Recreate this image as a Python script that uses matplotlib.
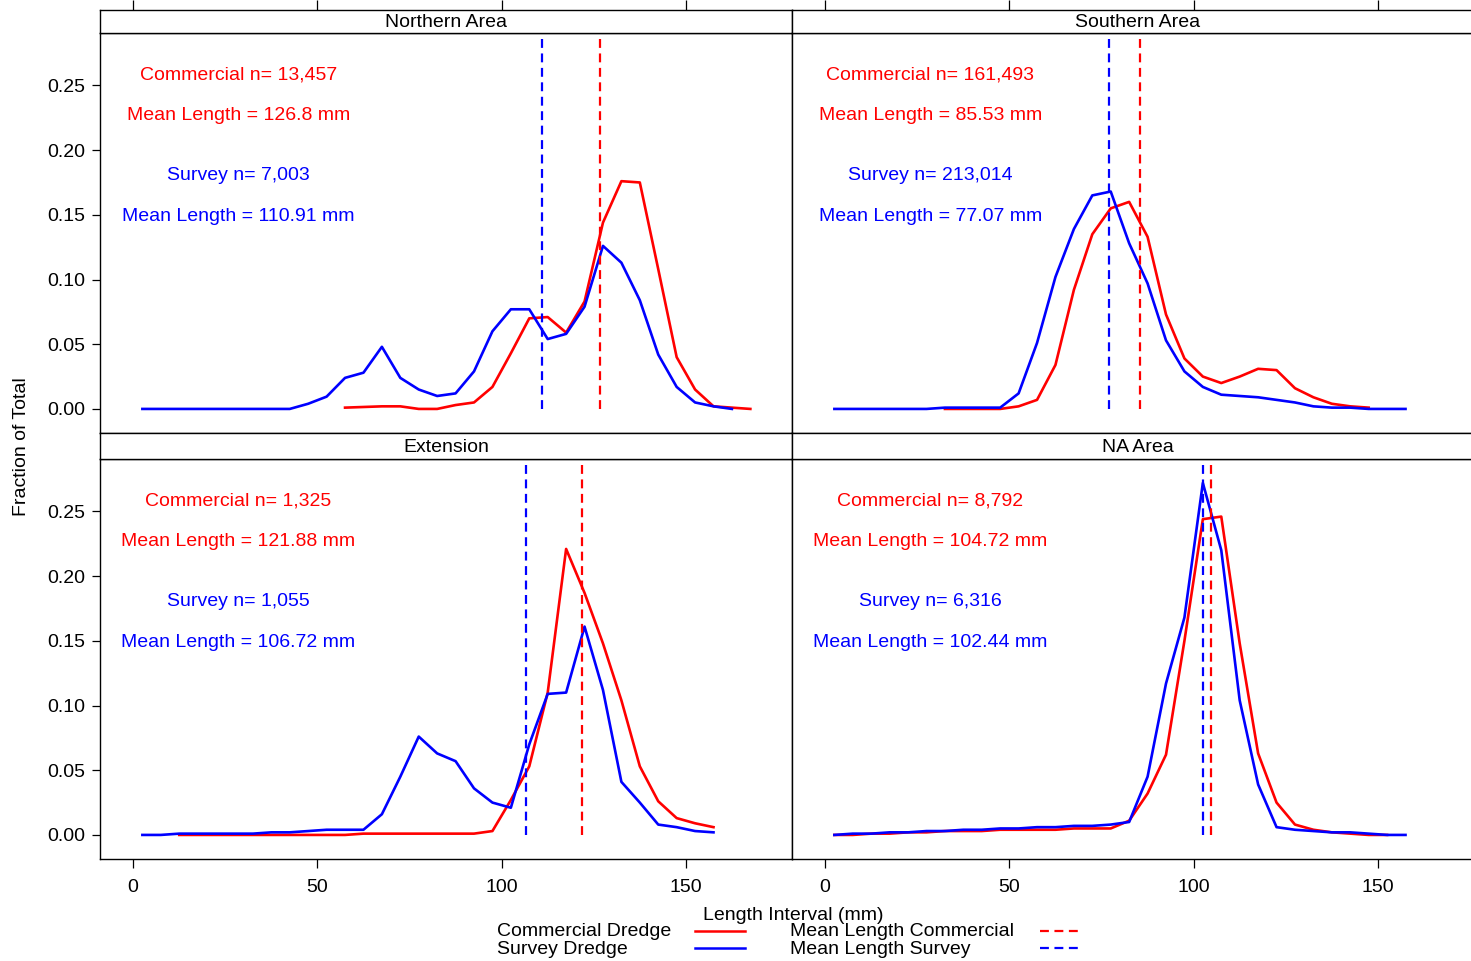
import numpy as np
import matplotlib
matplotlib.use("Agg")
import matplotlib.pyplot as plt
from matplotlib.lines import Line2D
from matplotlib.ticker import FormatStrFormatter

plt.rcParams['font.family'] = ['Liberation Sans', 'DejaVu Sans']
plt.rcParams['font.size'] = 14

# panel names and annotation values
panels = ["Northern Area", "Southern Area", "Extension", "NA Area"]
comm_n = ["13,457", "161,493", "1,325", "8,792"]
comm_mean = [126.8, 85.53, 121.88, 104.72]
surv_n = ["7,003", "213,014", "1,055", "6,316"]
surv_mean = [110.91, 77.07, 106.72, 102.44]

# length-frequency: first bin midpoint (mm), bins are 5 mm wide
north_comm_start = 57.5
north_comm = [0.001, 0.0015, 0.002, 0.002, 0.0, 0.0, 0.003, 0.005, 0.017, 0.043,
              0.070, 0.071, 0.059, 0.083, 0.144, 0.176, 0.175, 0.108, 0.040, 0.015,
              0.002, 0.001, 0.0]
north_surv_start = 2.5
north_surv = [0, 0, 0, 0, 0, 0, 0, 0, 0, 0.004, 0.0095, 0.024, 0.028, 0.048, 0.024,
              0.015, 0.010, 0.012, 0.029, 0.060, 0.077, 0.077, 0.054, 0.058, 0.079,
              0.126, 0.113, 0.084, 0.042, 0.017, 0.005, 0.002, 0.0]

south_comm_start = 32.5
south_comm = [0, 0, 0, 0, 0.002, 0.007, 0.034, 0.092, 0.135, 0.155, 0.160, 0.133,
              0.073, 0.039, 0.025, 0.020, 0.025, 0.031, 0.030, 0.016, 0.009, 0.004,
              0.002, 0.001]
south_surv_start = 2.5
south_surv = [0, 0, 0, 0, 0, 0, 0.001, 0.001, 0.001, 0.001, 0.012, 0.051, 0.102,
              0.139, 0.165, 0.168, 0.128, 0.097, 0.053, 0.029, 0.017, 0.011, 0.010,
              0.009, 0.007, 0.005, 0.002, 0.001, 0.001, 0.0, 0.0, 0.0]

ext_comm_start = 12.5
ext_comm = [0, 0, 0, 0, 0, 0, 0, 0, 0, 0, 0.001, 0.001, 0.001, 0.001, 0.001, 0.001,
            0.001, 0.003, 0.027, 0.053, 0.110, 0.221, 0.187, 0.148, 0.104, 0.053,
            0.026, 0.013, 0.009, 0.006]
ext_surv_start = 2.5
ext_surv = [0, 0, 0.001, 0.001, 0.001, 0.001, 0.001, 0.002, 0.002, 0.003, 0.004,
            0.004, 0.004, 0.016, 0.045, 0.076, 0.063, 0.057, 0.036, 0.025, 0.021,
            0.070, 0.109, 0.110, 0.161, 0.112, 0.041, 0.025, 0.008, 0.006, 0.003,
            0.002]

na_comm_start = 2.5
na_comm = [0, 0, 0.001, 0.001, 0.002, 0.002, 0.003, 0.003, 0.003, 0.004, 0.004,
           0.004, 0.004, 0.005, 0.005, 0.005, 0.011, 0.032, 0.062, 0.150, 0.244,
           0.246, 0.148, 0.063, 0.025, 0.008, 0.004, 0.002, 0.001, 0.0, 0.0]
na_surv_start = 2.5
na_surv = [0, 0.001, 0.001, 0.002, 0.002, 0.003, 0.003, 0.004, 0.004, 0.005, 0.005,
           0.006, 0.006, 0.007, 0.007, 0.008, 0.010, 0.045, 0.117, 0.168, 0.272,
           0.220, 0.104, 0.039, 0.006, 0.004, 0.003, 0.002, 0.002, 0.001, 0.0, 0.0]

comm_series = [(north_comm_start, north_comm), (south_comm_start, south_comm),
               (ext_comm_start, ext_comm), (na_comm_start, na_comm)]
surv_series = [(north_surv_start, north_surv), (south_surv_start, south_surv),
               (ext_surv_start, ext_surv), (na_surv_start, na_surv)]

W, H = 1471, 961
XLIM = (-9, 178.8)
YLIM = (-0.0186, 0.2905)
RED, BLUE = "#ff0000", "#0000ff"
DASH = (0, (4, 2.5))


def fx(px):
    return px / W


def fy(py):
    return 1 - py / H


fig = plt.figure(figsize=(W / 100, H / 100), dpi=100)

# (left px, panel top px, strip top px, strip height px)
boxes = [(100, 33, 10, 23), (792, 33, 10, 23), (100, 459, 433, 26), (792, 459, 433, 26)]
pw, ph = 692, 400

for i, (lx, ty, sy, sh) in enumerate(boxes):
    ax = fig.add_axes([fx(lx), fy(ty + ph), pw / W, ph / H])
    cs, cy = comm_series[i]
    ss, sv = surv_series[i]
    ax.plot(cs + 5 * np.arange(len(cy)), cy, color=RED, lw=1.9)
    ax.plot(ss + 5 * np.arange(len(sv)), sv, color=BLUE, lw=1.9)
    ax.plot([comm_mean[i]] * 2, [0, YLIM[1]], color=RED, lw=1.6, linestyle=DASH)
    ax.plot([surv_mean[i]] * 2, [0, YLIM[1]], color=BLUE, lw=1.6, linestyle=DASH)
    ax.set_xlim(*XLIM)
    ax.set_ylim(*YLIM)

    ax.text(28.5, 0.258, f"Commercial n= {comm_n[i]}", color=RED, ha="center", va="center")
    ax.text(28.5, 0.227, f"Mean Length = {comm_mean[i]} mm", color=RED, ha="center", va="center")
    ax.text(28.5, 0.180, f"Survey n= {surv_n[i]}", color=BLUE, ha="center", va="center")
    ax.text(28.5, 0.149, f"Mean Length = {surv_mean[i]} mm", color=BLUE, ha="center", va="center")

    for s in ax.spines.values():
        s.set_linewidth(1.0)

    ax.set_xticks([0, 50, 100, 150])
    ax.set_yticks([0, 0.05, 0.10, 0.15, 0.20, 0.25])
    ax.yaxis.set_major_formatter(FormatStrFormatter('%.2f'))
    bottom = i >= 2
    left = i % 2 == 0
    ax.tick_params(axis="x", direction="out", length=6.5, width=0.9, pad=8,
                   bottom=bottom, labelbottom=bottom, top=False)
    ax.tick_params(axis="y", direction="out", length=5.8, width=0.9, pad=5,
                   left=left, labelleft=left, right=False)

    # strip
    st = fig.add_axes([fx(lx), fy(sy + sh), pw / W, sh / H])
    st.set_xlim(*XLIM)
    st.set_yticks([])
    st.set_xticks([0, 50, 100, 150])
    st.tick_params(axis="x", bottom=False, labelbottom=False,
                   top=(i < 2), direction="out", length=7.2, width=0.9)
    st.text(0.5, 0.45, panels[i], transform=st.transAxes, ha="center", va="center")
    for s in st.spines.values():
        s.set_linewidth(1.0)

fig.text(fx(22), fy(447), "Fraction of Total", rotation=90, ha="center", va="center")
fig.text(fx(793), fy(915), "Length Interval (mm)", ha="center", va="center")

# legend
fig.text(fx(497), fy(931), "Commercial Dredge", ha="left", va="center")
fig.text(fx(497), fy(949), "Survey Dredge", ha="left", va="center")
fig.text(fx(790), fy(931), "Mean Length Commercial", ha="left", va="center")
fig.text(fx(790), fy(949), "Mean Length Survey", ha="left", va="center")
for yy, col in [(931, RED), (948, BLUE)]:
    fig.add_artist(Line2D([fx(695), fx(745)], [fy(yy), fy(yy)], transform=fig.transFigure,
                          color=col, lw=1.8))
    fig.add_artist(Line2D([fx(1040), fx(1083)], [fy(yy), fy(yy)], transform=fig.transFigure,
                          color=col, lw=1.6, linestyle=DASH))

fig.savefig("out.png", dpi=100)
